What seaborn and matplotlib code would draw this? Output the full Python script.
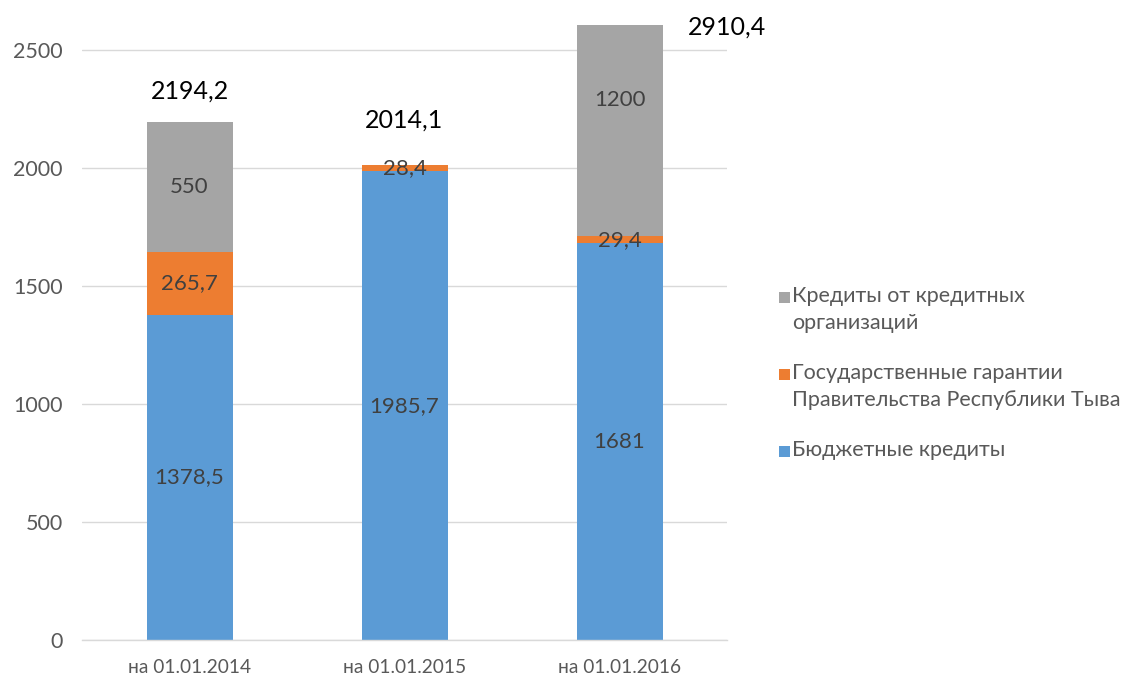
import matplotlib
matplotlib.use("Agg")
import matplotlib.pyplot as plt
import seaborn as sns
import pandas as pd
from matplotlib.patches import Rectangle

categories = ["на 01.01.2014", "на 01.01.2015", "на 01.01.2016"]
budget_credits = [1378.5, 1985.7, 1681]
state_guarantees = [265.7, 28.4, 29.4]
bank_credits = [550, 0, 1200]
totals = ["2194,2", "2014,1", "2910,4"]
budget_labels = ["1378,5", "1985,7", "1681"]
guarantee_labels = ["265,7", "28,4", "29,4"]
bank_labels = ["550", "", "1200"]
series_names = ["Кредиты от кредитных\nорганизаций",
                "Государственные гарантии\nПравительства Республики Тыва",
                "Бюджетные кредиты"]

BLUE = "#5B9BD5"
ORANGE = "#ED7D31"
GRAY = "#A5A5A5"
TEXT = "#595959"
LABEL = "#404040"

sns.set_theme(style="white")
plt.rcParams["font.family"] = ["Lato", "DejaVu Sans"]

df = pd.DataFrame({
    "cat": categories,
    "budget": budget_credits,
    "guar": state_guarantees,
    "bank": bank_credits,
})
df["lvl2"] = df["budget"] + df["guar"]
df["lvl3"] = df["lvl2"] + df["bank"]

W, H = 1129, 684
fig = plt.figure(figsize=(W / 100, H / 100), dpi=100)
ax = fig.add_axes([82 / W, 44 / H, 645 / W, 615 / H])

# stacked bars drawn back to front as cumulative heights
for col, color in [("lvl3", GRAY), ("lvl2", ORANGE), ("budget", BLUE)]:
    sns.barplot(data=df, x="cat", y=col, color=color, width=0.4,
                saturation=1, edgecolor="none", linewidth=0, ax=ax)

ymax = 2606
ax.set_ylim(0, ymax)
ax.set_xlim(-0.5, 2.5)
ax.set_yticks([0, 500, 1000, 1500, 2000, 2500])
ax.yaxis.grid(True, color="#D9D9D9", linewidth=1)
ax.set_axisbelow(True)
for s in ["top", "right", "left"]:
    ax.spines[s].set_visible(False)
ax.spines["bottom"].set_color("#D9D9D9")
ax.spines["bottom"].set_linewidth(1)
ax.set_xlabel("")
ax.set_ylabel("")
ax.tick_params(axis="both", length=0, labelcolor=TEXT)
ax.tick_params(axis="y", labelsize=15.5, pad=14)
ax.tick_params(axis="x", labelsize=13.8, pad=14)

# segment value labels
for i in range(3):
    b = budget_credits[i]
    g = state_guarantees[i]
    k = bank_credits[i]
    ax.text(i, b / 2, budget_labels[i], ha="center", va="center",
            fontsize=16, color=LABEL)
    ax.text(i, b + g / 2, guarantee_labels[i], ha="center", va="center",
            fontsize=16, color=LABEL)
    if bank_labels[i]:
        top = min(b + g + k, ymax)
        ax.text(i, (b + g + top) / 2 + (130 if i == 2 else 0), bank_labels[i],
                ha="center", va="center", fontsize=16, color=LABEL)

# totals above the stacks
ax.text(0, df["lvl3"][0] + 132, totals[0], ha="center", va="center",
        fontsize=18, color="black")
ax.text(1, df["lvl3"][1] + 190, totals[1], ha="center", va="center",
        fontsize=18, color="black")
ax.text(2.5, ymax - 10, totals[2], ha="center", va="center",
        fontsize=18, color="black", clip_on=False)

# legend: swatch plus wrapped label, one row block per series
swatches = [GRAY, ORANGE, BLUE]
row_tops = [295, 372, 449]
for color, name, yc in zip(swatches, series_names, row_tops):
    fig.add_artist(Rectangle((779 / W, 1 - (yc + 8) / H), 11 / W, 11 / H,
                             transform=fig.transFigure, facecolor=color,
                             edgecolor="none"))
    fig.text(792 / W, 1 - (yc - 9) / H, name, ha="left", va="top",
             fontsize=15.5, color=TEXT, linespacing=1.42)

fig.savefig("out.png", dpi=100)
